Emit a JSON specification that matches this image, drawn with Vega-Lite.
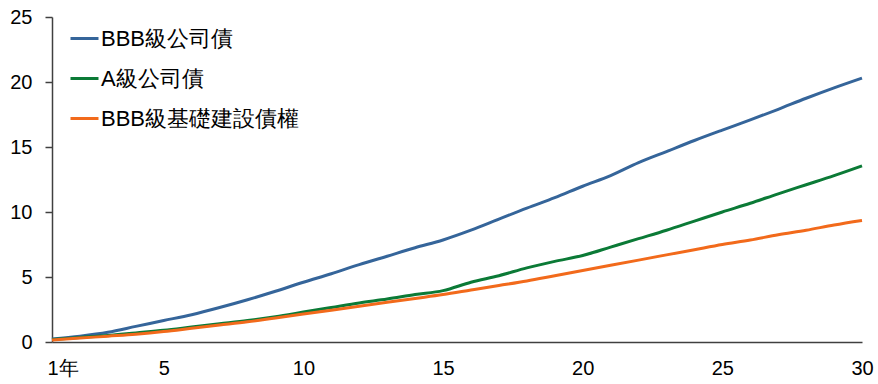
{
  "$schema": "https://vega.github.io/schema/vega-lite/v6.json",
  "autosize": "none",
  "width": 810,
  "height": 325,
  "padding": {"left": 52, "top": 17, "right": 16, "bottom": 42},
  "config": {"view": {"stroke": null}, "font": "Liberation Sans"},
  "datasets": {
    "rows": [
      {"year":1,"s":"BBB級公司債","v":0.23},{"year":2,"s":"BBB級公司債","v":0.45},{"year":3,"s":"BBB級公司債","v":0.75},{"year":4,"s":"BBB級公司債","v":1.2},{"year":5,"s":"BBB級公司債","v":1.65},{"year":6,"s":"BBB級公司債","v":2.1},{"year":7,"s":"BBB級公司債","v":2.65},{"year":8,"s":"BBB級公司債","v":3.25},{"year":9,"s":"BBB級公司債","v":3.9},{"year":10,"s":"BBB級公司債","v":4.6},{"year":11,"s":"BBB級公司債","v":5.25},{"year":12,"s":"BBB級公司債","v":5.95},{"year":13,"s":"BBB級公司債","v":6.6},{"year":14,"s":"BBB級公司債","v":7.25},{"year":15,"s":"BBB級公司債","v":7.85},{"year":16,"s":"BBB級公司債","v":8.6},{"year":17,"s":"BBB級公司債","v":9.45},{"year":18,"s":"BBB級公司債","v":10.3},{"year":19,"s":"BBB級公司債","v":11.1},{"year":20,"s":"BBB級公司債","v":11.98},{"year":21,"s":"BBB級公司債","v":12.8},{"year":22,"s":"BBB級公司債","v":13.8},{"year":23,"s":"BBB級公司債","v":14.65},{"year":24,"s":"BBB級公司債","v":15.5},{"year":25,"s":"BBB級公司債","v":16.3},{"year":26,"s":"BBB級公司債","v":17.08},{"year":27,"s":"BBB級公司債","v":17.9},{"year":28,"s":"BBB級公司債","v":18.75},{"year":29,"s":"BBB級公司債","v":19.55},{"year":30,"s":"BBB級公司債","v":20.3},
      {"year":1,"s":"A級公司債","v":0.2},{"year":2,"s":"A級公司債","v":0.35},{"year":3,"s":"A級公司債","v":0.5},{"year":4,"s":"A級公司債","v":0.7},{"year":5,"s":"A級公司債","v":0.9},{"year":6,"s":"A級公司債","v":1.15},{"year":7,"s":"A級公司債","v":1.4},{"year":8,"s":"A級公司債","v":1.65},{"year":9,"s":"A級公司債","v":1.95},{"year":10,"s":"A級公司債","v":2.3},{"year":11,"s":"A級公司債","v":2.65},{"year":12,"s":"A級公司債","v":3.0},{"year":13,"s":"A級公司債","v":3.3},{"year":14,"s":"A級公司債","v":3.65},{"year":15,"s":"A級公司債","v":3.95},{"year":16,"s":"A級公司債","v":4.6},{"year":17,"s":"A級公司債","v":5.1},{"year":18,"s":"A級公司債","v":5.7},{"year":19,"s":"A級公司債","v":6.2},{"year":20,"s":"A級公司債","v":6.65},{"year":21,"s":"A級公司債","v":7.3},{"year":22,"s":"A級公司債","v":7.95},{"year":23,"s":"A級公司債","v":8.6},{"year":24,"s":"A級公司債","v":9.3},{"year":25,"s":"A級公司債","v":10.0},{"year":26,"s":"A級公司債","v":10.67},{"year":27,"s":"A級公司債","v":11.4},{"year":28,"s":"A級公司債","v":12.1},{"year":29,"s":"A級公司債","v":12.8},{"year":30,"s":"A級公司債","v":13.55},
      {"year":1,"s":"BBB級基礎建設債權","v":0.15},{"year":2,"s":"BBB級基礎建設債權","v":0.3},{"year":3,"s":"BBB級基礎建設債權","v":0.45},{"year":4,"s":"BBB級基礎建設債權","v":0.6},{"year":5,"s":"BBB級基礎建設債權","v":0.8},{"year":6,"s":"BBB級基礎建設債權","v":1.05},{"year":7,"s":"BBB級基礎建設債權","v":1.3},{"year":8,"s":"BBB級基礎建設債權","v":1.55},{"year":9,"s":"BBB級基礎建設債權","v":1.85},{"year":10,"s":"BBB級基礎建設債權","v":2.15},{"year":11,"s":"BBB級基礎建設債權","v":2.45},{"year":12,"s":"BBB級基礎建設債權","v":2.75},{"year":13,"s":"BBB級基礎建設債權","v":3.05},{"year":14,"s":"BBB級基礎建設債權","v":3.35},{"year":15,"s":"BBB級基礎建設債權","v":3.65},{"year":16,"s":"BBB級基礎建設債權","v":4.0},{"year":17,"s":"BBB級基礎建設債權","v":4.35},{"year":18,"s":"BBB級基礎建設債權","v":4.7},{"year":19,"s":"BBB級基礎建設債權","v":5.1},{"year":20,"s":"BBB級基礎建設債權","v":5.5},{"year":21,"s":"BBB級基礎建設債權","v":5.9},{"year":22,"s":"BBB級基礎建設債權","v":6.3},{"year":23,"s":"BBB級基礎建設債權","v":6.7},{"year":24,"s":"BBB級基礎建設債權","v":7.1},{"year":25,"s":"BBB級基礎建設債權","v":7.5},{"year":26,"s":"BBB級基礎建設債權","v":7.85},{"year":27,"s":"BBB級基礎建設債權","v":8.25},{"year":28,"s":"BBB級基礎建設債權","v":8.6},{"year":29,"s":"BBB級基礎建設債權","v":9.0},{"year":30,"s":"BBB級基礎建設債權","v":9.35}
    ]
  },
  "data": {"name": "rows"},
  "mark": {"type": "line", "strokeWidth": 3, "interpolate": "monotone"},
  "encoding": {
    "x": {
      "field": "year", "type": "quantitative",
      "scale": {"domain": [1, 30], "nice": false, "zero": false},
      "axis": {
        "values": [1, 5, 10, 15, 20, 25, 30],
        "labelExpr": "datum.value == 1 ? '1年' : datum.label",
        "labelAlign": {"condition": {"test": "datum.value == 1", "value": "left"}, "value": "center"},
        "labelOffset": {"condition": {"test": "datum.value == 1", "value": -5}, "value": 0},
        "labelFontSize": 20, "labelColor": "#000000", "labelPadding": 16,
        "ticks": false, "grid": false, "title": null,
        "domainColor": "#404040", "domainWidth": 1.5
      }
    },
    "y": {
      "field": "v", "type": "quantitative",
      "scale": {"domain": [0, 25], "nice": false},
      "axis": {
        "values": [0, 5, 10, 15, 20, 25],
        "labelFontSize": 20, "labelColor": "#000000", "labelPadding": 13,
        "tickSize": 7, "tickColor": "#404040", "tickWidth": 1.5,
        "grid": false, "title": null,
        "domainColor": "#404040", "domainWidth": 1.5
      }
    },
    "color": {
      "field": "s", "type": "nominal",
      "scale": {"domain": ["BBB級公司債", "A級公司債", "BBB級基礎建設債權"], "range": ["#35659A", "#0B7A36", "#F26A1B"]},
      "legend": {
        "orient": "none", "legendX": 17, "legendY": 6, "title": null,
        "symbolType": "stroke", "symbolSize": 784, "symbolStrokeWidth": 3,
        "labelFontSize": 22, "labelColor": "#000000", "labelOffset": 1, "labelLimit": 0,
        "rowPadding": 13
      }
    }
  }
}
